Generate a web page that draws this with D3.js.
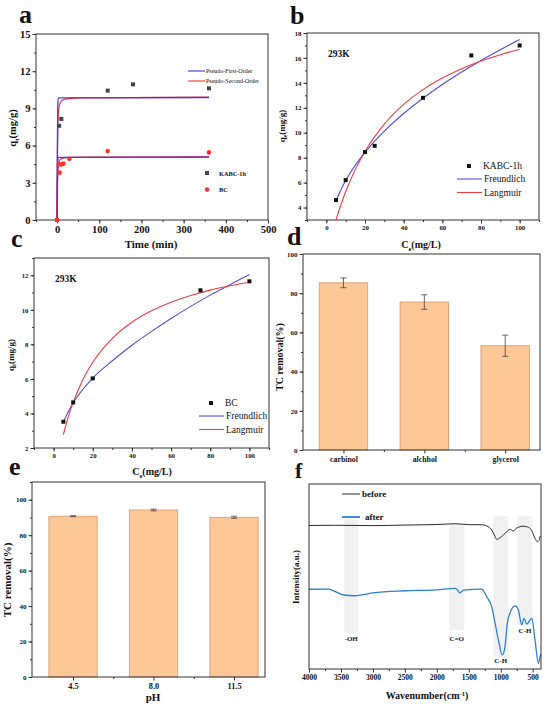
<!DOCTYPE html>
<html>
<head>
<meta charset="utf-8">
<script src="https://cdn.jsdelivr.net/npm/d3@7"></script>
<style>
body { margin: 0; background: #fff; }
svg { display: block; }
text { font-family: "Liberation Serif", "Times New Roman", Times, serif; font-weight: bold; fill: #111; }
.domain { display: none; }
.tick line { stroke: #333; }
</style>
</head>
<body>
<svg width="550" height="707"></svg>
<script>
// ---- panel a: kinetics
const kabcTime = [0, 5, 10, 120, 180, 360];
const kabcQt = [0, 7.6, 8.15, 10.43, 10.94, 10.62];
const bcTime = [0, 4, 6, 10, 15, 29, 120, 360];
const bcQt = [0, 4.49, 3.82, 4.47, 4.55, 4.94, 5.56, 5.45];
const pfoTime = [0, 0.5, 1, 1.5, 2, 3, 360];
const pfoKabc = [0, 5, 7.5, 9, 9.6, 9.85, 9.88];
const pfoBc = [0, 2.6, 3.9, 4.6, 4.9, 5.05, 5.08];
const psoTime = [0, 1, 2, 3, 5, 8, 15, 30, 60, 360];
const psoKabc = [0, 5.5, 7.6, 8.5, 9.2, 9.5, 9.7, 9.8, 9.85, 9.9];
const psoBc = [0, 3, 4.0, 4.4, 4.7, 4.9, 5.0, 5.05, 5.07, 5.08];

// ---- panels b, c: isotherms
const ceKabc = [5, 10, 20, 25, 50, 75, 100];
const qeKabc = [4.6, 6.2, 8.45, 8.95, 12.8, 16.2, 17.0];
const ceBc = [5, 10, 20, 75, 100];
const qeBc = [3.52, 4.64, 6.03, 11.13, 11.65];
const fitCe = [5, 7.5, 10, 15, 20, 30, 40, 50, 60, 70, 80, 90, 100];
const freundKabc = [4.55, 5.41, 6.16, 7.4, 8.43, 10.13, 11.54, 12.77, 13.87, 14.87, 15.8, 16.66, 17.47];
const langKabc = [3.0, 4.2, 5.27, 7.06, 8.5, 10.69, 12.27, 13.46, 14.39, 15.14, 15.75, 16.26, 16.7];
const freundBc = [3.5, 4.1, 4.62, 5.4, 6.05, 7.05, 7.95, 8.75, 9.5, 10.2, 10.85, 11.45, 12.05];
const langBc = [2.78, 3.8, 4.64, 5.97, 6.96, 8.35, 9.28, 9.94, 10.44, 10.83, 11.14, 11.39, 11.6];

// ---- panel d: solvents
const solvents = ['carbinol', 'alchhol', 'glycerol'];
const solventRemoval = [85.3, 75.5, 53.2];
const solventErr = [2.5, 3.7, 5.4];

// ---- panel e: pH
const phLabels = ['4.5', '8.0', '11.5'];
const phRemoval = [90.7, 94.2, 90.1];
const phErr = [0.3, 0.5, 0.6];

// ---- panel f: FTIR
const wnBefore = [4000, 3600, 3000, 2500, 2000, 1700, 1500, 1300, 1200, 1141, 1100, 1063, 1010, 958, 900, 855, 803, 760, 724, 650, 593, 540, 515, 463, 427, 400, 385, 372];
const intBefore = [77.6, 77.7, 77.5, 77.8, 78.1, 78.5, 78.0, 78.0, 77.0, 75.1, 72.5, 70.1, 71.0, 72.4, 74.5, 75.5, 74.6, 76.0, 76.6, 77.2, 76.9, 76.0, 74.8, 70.6, 68.8, 69.5, 71.5, 72];
const wnAfter = [4000, 3700, 3600, 3450, 3300, 3150, 3000, 2500, 2000, 1700, 1640, 1580, 1300, 1220, 1141, 1089, 1037, 975, 933, 897, 855, 776, 724, 672, 635, 593, 515, 463, 412, 385, 372];
const intAfter = [43.1, 43.2, 42.0, 40.0, 39.6, 40.2, 41.2, 42.3, 42.8, 43.6, 41.2, 42.6, 43.2, 39.1, 33.7, 24.9, 15.7, 7.6, 12.1, 24.9, 30.3, 34.1, 31.9, 23.8, 27.4, 24.3, 27.4, 15.7, 3.1, 6.6, 8];
const bandNames = ['-OH', 'C=O', 'C-H', 'C-H'];
const bandFrom = [3448, 1809, 1116, 740];
const bandTo = [3229, 1570, 881, 505];
const bandTop = [80.5, 77.8, 82.7, 82.7];
const bandBottom = [19.6, 21.1, 6.6, 23.8];
const bandLabelWn = [3340, 1690, 1000, 620];
const bandLabelInt = [15.2, 15.2, 3.5, 19.5];

const svg = d3.select('svg');
svg.append('rect').attr('width', 550).attr('height', 707).attr('fill', '#fff');

const zip = (a, b) => a.map((v, i) => [v, b[i]]);

function axes(g, x, y, o) {
  const bottom = y.range()[0], left = x.range()[0];
  const xa = g.append('g').attr('transform', `translate(0,${bottom})`);
  if (o.xMinor) xa.append('g').call(d3.axisBottom(x).tickValues(o.xMinor).tickSize(2).tickFormat(''));
  xa.append('g').call(d3.axisBottom(x).tickValues(o.xTicks).tickSize(3.5).tickPadding(o.xPad || 2)
    .tickFormat(o.xFormat || (d => d)))
    .selectAll('text').style('font-size', o.xFont + 'px');
  if (o.yTicks) {
    const ya = g.append('g').attr('transform', `translate(${left},0)`);
    if (o.yMinor) ya.append('g').call(d3.axisLeft(y).tickValues(o.yMinor).tickSize(2).tickFormat(''));
    ya.append('g').call(d3.axisLeft(y).tickValues(o.yTicks).tickSize(3.5).tickPadding(2).tickFormat(d => d))
      .selectAll('text').style('font-size', o.yFont + 'px');
  }
  g.append('rect')
    .attr('x', left).attr('y', y.range()[1])
    .attr('width', x.range()[1] - left).attr('height', bottom - y.range()[1])
    .attr('fill', 'none').attr('stroke', '#333').attr('stroke-width', 1);
}

function letter(t, x, y, size) {
  svg.append('text').attr('x', x).attr('y', y).style('font-size', (size || 26) + 'px').text(t);
}

function yLabel(x, y, size, main, sub, rest) {
  const t = svg.append('text').attr('transform', `translate(${x},${y}) rotate(-90)`)
    .attr('text-anchor', 'middle').style('font-size', size + 'px');
  t.append('tspan').text(main);
  if (sub) {
    t.append('tspan').attr('dy', size * 0.25).style('font-size', (size * 0.65) + 'px').text(sub);
    t.append('tspan').attr('dy', -size * 0.25).text(rest);
  }
}

function xLabel(x, y, size, main, sub, rest, sup) {
  const t = svg.append('text').attr('x', x).attr('y', y)
    .attr('text-anchor', 'middle').style('font-size', size + 'px');
  t.append('tspan').text(main);
  if (sub) {
    t.append('tspan').attr('dy', size * 0.25).style('font-size', (size * 0.65) + 'px').text(sub);
    t.append('tspan').attr('dy', -size * 0.25).text(rest);
  }
  if (sup) {
    t.append('tspan').attr('dy', -size * 0.35).style('font-size', (size * 0.65) + 'px').text(sup);
    t.append('tspan').attr('dy', size * 0.35).text(')');
  }
}

// ================= a
{
  const g = svg.append('g');
  const x = d3.scaleLinear().domain([-50, 500]).range([36, 268]);
  const y = d3.scaleLinear().domain([0, 15]).range([220, 34]);
  axes(g, x, y, {
    xTicks: d3.range(0, 501, 100), xMinor: d3.range(-50, 501, 50), xFont: 10.5,
    yTicks: d3.range(0, 16, 3), yMinor: d3.range(0, 15.1, 1.5), yFont: 10.5
  });
  const line = d3.line().x(d => x(d[0])).y(d => y(d[1])).curve(d3.curveMonotoneX);
  [pfoKabc, pfoBc].forEach(s => g.append('path').attr('d', line(zip(pfoTime, s)))
    .attr('fill', 'none').attr('stroke', '#4a4ae0').attr('stroke-width', 1.3));
  [psoKabc, psoBc].forEach(s => g.append('path').attr('d', line(zip(psoTime, s)))
    .attr('fill', 'none').attr('stroke', '#d01030').attr('stroke-opacity', 0.75).attr('stroke-width', 1.3));
  g.selectAll('.sq').data(zip(kabcTime, kabcQt)).join('rect')
    .attr('x', d => x(d[0]) - 2).attr('y', d => y(d[1]) - 2)
    .attr('width', 4).attr('height', 4).attr('fill', '#444');
  g.selectAll('.ci').data(zip(bcTime, bcQt)).join('circle')
    .attr('cx', d => x(d[0])).attr('cy', d => y(d[1])).attr('r', 2.3).attr('fill', '#ff3030');
  // legend
  const lg = [['Pseudo-First-Order', '#4a4ae0', 71], ['Pseudo-Second-Order', '#ff4040', 81]];
  lg.forEach(([t, c, ly]) => {
    g.append('line').attr('x1', 188).attr('x2', 205).attr('y1', ly).attr('y2', ly)
      .attr('stroke', c).attr('stroke-width', 1.2);
    g.append('text').attr('x', 206).attr('y', ly + 2).style('font-size', '6px')
      .style('font-weight', 'normal').text(t);
  });
  g.append('rect').attr('x', 205).attr('y', 171).attr('width', 4).attr('height', 4).attr('fill', '#444');
  g.append('text').attr('x', 219).attr('y', 175.5).style('font-size', '6.3px').text('KABC-1h');
  g.append('circle').attr('cx', 207).attr('cy', 189.5).attr('r', 2.3).attr('fill', '#ff3030');
  g.append('text').attr('x', 219).attr('y', 192).style('font-size', '6.3px').text('BC');
  letter('a', 19, 23);
  xLabel(151, 248, 11, 'Time (min)');
  yLabel(16, 128, 10.5, 'q', 't', '(mg/g)');
}

// ================= b, c
function isoPanel(fr, yDom, yTicks, ce, qe, fre, lang, name, lgX, lgY) {
  const g = svg.append('g');
  const x = d3.scaleLinear().domain([-10, 110]).range([fr.l, fr.r]);
  const y = d3.scaleLinear().domain(yDom).range([fr.b, fr.t]);
  const minor = d3.range(yDom[0], yDom[1] + 0.01, 1);
  axes(g, x, y, {
    xTicks: d3.range(0, 101, 20), xMinor: d3.range(-10, 111, 10), xFont: 6.8,
    yTicks: yTicks, yMinor: minor, yFont: 6.8
  });
  const line = d3.line().x(d => x(d[0])).y(d => y(d[1])).curve(d3.curveMonotoneX);
  g.append('path').attr('d', line(zip(fitCe, fre))).attr('fill', 'none')
    .attr('stroke', '#4d4de6').attr('stroke-width', 1.1);
  g.append('path').attr('d', line(zip(fitCe, lang))).attr('fill', 'none')
    .attr('stroke', '#f03c3c').attr('stroke-width', 1.1);
  g.selectAll('.pt').data(zip(ce, qe)).join('rect')
    .attr('x', d => x(d[0]) - 2).attr('y', d => y(d[1]) - 2)
    .attr('width', 4).attr('height', 4).attr('fill', '#111');
  // legend
  g.append('rect').attr('x', lgX + 10).attr('y', lgY - 2).attr('width', 4).attr('height', 4).attr('fill', '#111');
  g.append('text').attr('x', lgX + 26).attr('y', lgY + 3.3).style('font-size', '9.5px')
    .style('font-weight', 'normal').text(name);
  [['Freundlich', '#4d4de6'], ['Langmuir', '#f03c3c']].forEach(([t, c], i) => {
    const ly = lgY + 13 + i * 13.5;
    g.append('line').attr('x1', lgX).attr('x2', lgX + 25).attr('y1', ly).attr('y2', ly)
      .attr('stroke', c).attr('stroke-width', 1.1);
    g.append('text').attr('x', lgX + 27).attr('y', ly + 3).style('font-size', '9.5px')
      .style('font-weight', 'normal').text(t);
  });
  g.append('text').attr('x', fr.l + 21).attr('y', fr.t + 24).style('font-size', '9.5px').text('293K');
  return g;
}
isoPanel({ l: 307, r: 539, t: 33, b: 220 }, [3, 18], d3.range(4, 19, 2),
  ceKabc, qeKabc, freundKabc, langKabc, 'KABC-1h', 457, 166);
letter('b', 290, 24);
yLabel(285, 126, 9, 'q', 'e', '(mg/g)');
xLabel(421, 248, 10, 'C', 'e', '(mg/L)');

isoPanel({ l: 34, r: 269, t: 258, b: 448 }, [2, 13], d3.range(2, 13, 2),
  ceBc, qeBc, freundBc, langBc, 'BC', 199, 403);
letter('c', 11, 247);
yLabel(14, 355, 9, 'q', 't', '(mg/g)');
xLabel(152, 475, 10, 'C', 'e', '(mg/L)');

// ================= d, e
function barPanel(fr, xDom, yMax, cats, vals, errs, xFont) {
  const g = svg.append('g');
  const x = d3.scaleLinear().domain(xDom).range([fr.l, fr.r]);
  const y = d3.scaleLinear().domain([0, yMax]).range([fr.b, fr.t]);
  const bw = x(1.3) - x(0.7);
  g.selectAll('.bar').data(vals).join('rect')
    .attr('x', (d, i) => x(i + 1) - bw / 2).attr('y', d => y(d))
    .attr('width', bw).attr('height', d => y(0) - y(d))
    .attr('fill', '#fec896').attr('stroke', '#d9956a').attr('stroke-width', 0.8);
  g.selectAll('.err').data(vals).join('path')
    .attr('d', (d, i) => {
      const cx = x(i + 1), t = y(d + errs[i]), b = y(d - errs[i]);
      return `M${cx - 3},${t}H${cx + 3}M${cx},${t}V${b}M${cx - 3},${b}H${cx + 3}`;
    })
    .attr('fill', 'none').attr('stroke', '#444').attr('stroke-width', 0.8);
  axes(g, x, y, {
    xTicks: [1, 2, 3], xMinor: [1.5, 2.5], xFont: xFont, xPad: 3, xFormat: d => cats[d - 1],
    yTicks: d3.range(0, 101, 20), yMinor: d3.range(0, yMax + 0.1, 10), yFont: 7
  });
  return g;
}
barPanel({ l: 303, r: 540, t: 254, b: 450 }, [0.5, 3.43], 100,
  solvents, solventRemoval, solventErr, 7.8);
letter('d', 287, 245);
yLabel(283, 357, 10, 'TC removal(%)');

barPanel({ l: 32, r: 265, t: 482, b: 677 }, [0.49, 3.385], 110,
  phLabels, phRemoval, phErr, 8.3);
letter('e', 9, 475);
yLabel(11, 580, 11, 'TC removal(%)');
xLabel(153, 701, 11, 'pH');

// ================= f
{
  const g = svg.append('g');
  const x = d3.scaleLinear().domain([4000, 370]).range([309, 541]);
  const y = d3.scaleLinear().domain([0, 100]).range([669, 484]);
  g.selectAll('.band').data(bandFrom).join('rect')
    .attr('x', (d, i) => x(d)).attr('y', (d, i) => y(bandTop[i]))
    .attr('width', (d, i) => x(bandTo[i]) - x(d))
    .attr('height', (d, i) => y(bandBottom[i]) - y(bandTop[i]))
    .attr('fill', '#ededed').attr('opacity', 0.8);
  const line = d3.line().x(d => x(d[0])).y(d => y(d[1])).curve(d3.curveMonotoneX);
  g.append('path').attr('d', line(zip(wnBefore, intBefore))).attr('fill', 'none')
    .attr('stroke', '#2a2a2a').attr('stroke-width', 1);
  g.append('path').attr('d', line(zip(wnAfter, intAfter))).attr('fill', 'none')
    .attr('stroke', '#2a80d8').attr('stroke-width', 1.3);
  bandNames.forEach((t, i) => {
    g.append('text').attr('x', x(bandLabelWn[i])).attr('y', y(bandLabelInt[i]))
      .attr('text-anchor', 'middle').style('font-size', '7px').text(t);
  });
  axes(g, x, y, {
    xTicks: d3.range(4000, 499, -500), xMinor: d3.range(3750, 370, -500), xFont: 7.5
  });
  g.append('line').attr('x1', 342).attr('x2', 360).attr('y1', 494).attr('y2', 494)
    .attr('stroke', '#2a2a2a').attr('stroke-width', 1);
  g.append('text').attr('x', 362).attr('y', 497).style('font-size', '9px').text('before');
  g.append('line').attr('x1', 342).attr('x2', 360).attr('y1', 517).attr('y2', 517)
    .attr('stroke', '#2a80d8').attr('stroke-width', 1.8);
  g.append('text').attr('x', 365).attr('y', 520).style('font-size', '9px').text('after');
  letter('f', 295, 478, 22);
  yLabel(299, 577, 9, 'Intensity(a.u.)');
  xLabel(427, 699, 10, 'Wavenumber(cm', null, null, '-1');
}
</script>
</body>
</html>
